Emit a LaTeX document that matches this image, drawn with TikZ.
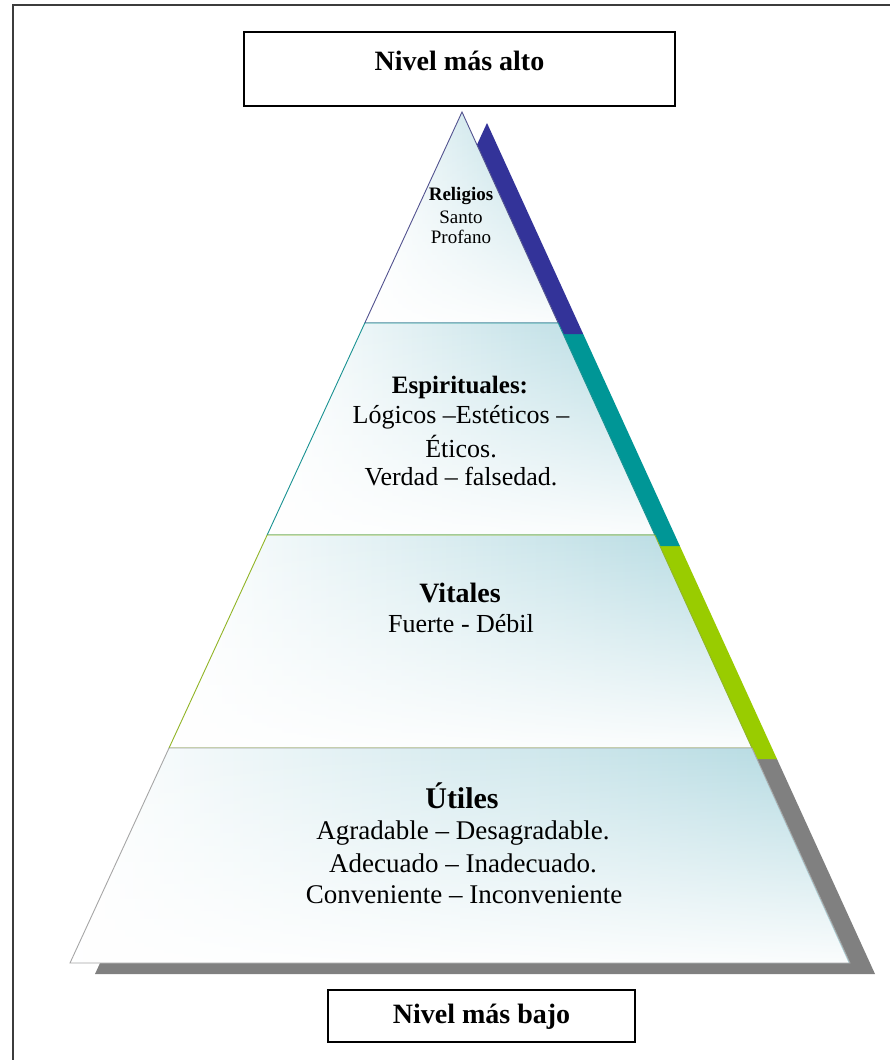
\documentclass[tikz,border=0pt]{standalone}
\usepackage{fontspec}
\setmainfont{Liberation Serif}
\usetikzlibrary{calc,fadings}
\definecolor{lvblue}{RGB}{51,51,153}
\definecolor{lvteal}{RGB}{0,150,150}
\definecolor{lvgreen}{RGB}{153,204,0}
\definecolor{lvgray}{RGB}{128,128,128}
\definecolor{lvfill}{RGB}{176,216,224}
\definecolor{framecol}{RGB}{60,60,60}
\tikzfading[name=fadeup, top color=transparent!100, bottom color=transparent!0]
\tikzset{
  boxnode/.style={draw=black, line width=1.2pt, fill=white, inner sep=0pt,
    font=\fontsize{28}{30}\bfseries\selectfont},
  lvtxt/.style={anchor=base, inner sep=0pt},
  lvshade/.style={left color=white, right color=lvfill},
  lvfade/.style={fill=white, path fading=fadeup, fill opacity=0.95},
}
\begin{document}
\begin{tikzpicture}[x=1pt,y=-1pt]
\useasboundingbox (0,0) rectangle (890,1060);
\fill[white] (0,0) rectangle (890,1060);
\draw[framecol, line width=2pt] (13,1060) -- (13,5) -- (890,5);

% pyramid geometry
\coordinate (A) at (462,112);
\coordinate (BL) at (70,963);
\coordinate (BR) at (850,963);
\coordinate (L1) at ($(A)!0.24794!(BL)$);
\coordinate (R1) at ($(A)!0.24794!(BR)$);
\coordinate (L2) at ($(A)!0.49706!(BL)$);
\coordinate (R2) at ($(A)!0.49706!(BR)$);
\coordinate (L3) at ($(A)!0.74736!(BL)$);
\coordinate (R3) at ($(A)!0.74736!(BR)$);

% shadows
\fill[lvgray] ($(L3)+(25,11)$) -- ($(R3)+(25,11)$) -- ($(BR)+(25,11)$) -- ($(BL)+(25,11)$) -- cycle;
\fill[lvgreen] ($(L2)+(25,11)$) -- ($(R2)+(25,11)$) -- ($(R3)+(25,11)$) -- ($(L3)+(25,11)$) -- cycle;
\fill[lvteal] ($(L1)+(25,11)$) -- ($(R1)+(25,11)$) -- ($(R2)+(25,11)$) -- ($(L2)+(25,11)$) -- cycle;
\fill[lvblue] ($(A)+(25,11)$) -- ($(R1)+(25,11)$) -- ($(L1)+(25,11)$) -- cycle;

% levels
\shade[lvshade] (A) -- (R1) -- (L1) -- cycle;
\fill[lvfade] (A) -- (R1) -- (L1) -- cycle;
\draw[lvblue!60!gray, line width=0.9pt] (A) -- (R1) -- (L1) -- cycle;

\shade[lvshade] (L1) -- (R1) -- (R2) -- (L2) -- cycle;
\fill[lvfade] (L1) -- (R1) -- (R2) -- (L2) -- cycle;
\draw[lvteal!80!gray, line width=0.9pt] (L1) -- (R1) -- (R2) -- (L2) -- cycle;

\shade[lvshade] (L2) -- (R2) -- (R3) -- (L3) -- cycle;
\fill[lvfade] (L2) -- (R2) -- (R3) -- (L3) -- cycle;
\draw[lvgreen!70!gray, line width=0.9pt] (L2) -- (R2) -- (R3) -- (L3) -- cycle;

\shade[lvshade] (L3) -- (R3) -- (BR) -- (BL) -- cycle;
\fill[lvfade] (L3) -- (R3) -- (BR) -- (BL) -- cycle;
\draw[lvgray!70, line width=0.9pt] (L3) -- (R3) -- (BR) -- (BL) -- cycle;

% boxes
\node[boxnode, minimum width=431pt, minimum height=74pt, text height=20pt, text depth=18pt] (topbox) at (459.5,69) {Nivel más alto};
\node[boxnode, minimum width=307pt, minimum height=52pt, text height=20pt, text depth=6pt] (botbox) at (481.5,1016) {Nivel más bajo};

% texts
\node[lvtxt, font=\fontsize{19}{21}\bfseries\selectfont] (rel1) at (461,200) {Religios};
\node[lvtxt, font=\fontsize{19}{21}\selectfont] (rel2) at (461,223) {Santo};
\node[lvtxt, font=\fontsize{19}{21}\selectfont] (rel3) at (461,243) {Profano};

\node[lvtxt, font=\fontsize{25}{27}\bfseries\selectfont] (esp1) at (460,393) {Espirituales:};
\node[lvtxt, font=\fontsize{26}{28}\selectfont] (esp2) at (461,423) {Lógicos –Estéticos –};
\node[lvtxt, font=\fontsize{26}{28}\selectfont] (esp3) at (461,457) {Éticos.};
\node[lvtxt, font=\fontsize{26}{28}\selectfont] (esp4) at (461,485) {Verdad – falsedad.};

\node[lvtxt, font=\fontsize{28}{30}\bfseries\selectfont] (vit1) at (460,602) {Vitales};
\node[lvtxt, font=\fontsize{26}{28}\selectfont] (vit2) at (461,632) {Fuerte - Débil};

\node[lvtxt, font=\fontsize{30}{32}\bfseries\selectfont] (uti1) at (462,808) {Útiles};
\node[lvtxt, font=\fontsize{27}{29}\selectfont] (uti2) at (463,839) {Agradable – Desagradable.};
\node[lvtxt, font=\fontsize{27}{29}\selectfont] (uti3) at (463,872) {Adecuado – Inadecuado.};
\node[lvtxt, font=\fontsize{27}{29}\selectfont] (uti4) at (464,903) {Conveniente – Inconveniente};
\end{tikzpicture}
\end{document}
